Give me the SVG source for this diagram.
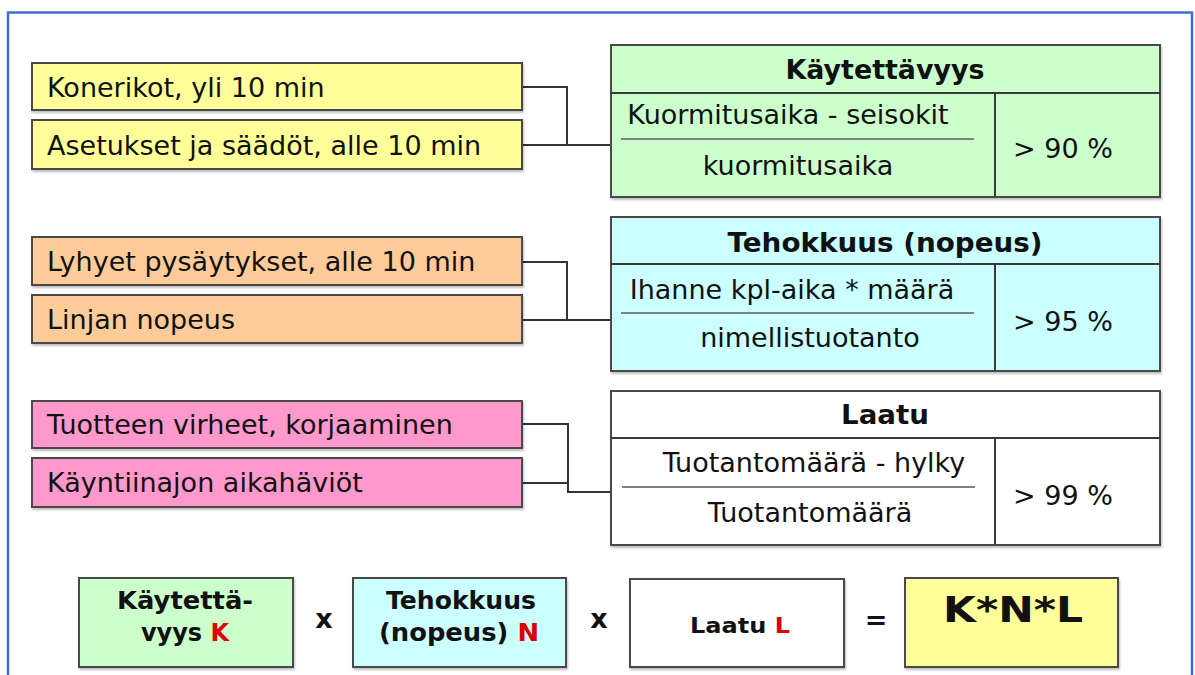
<svg xmlns="http://www.w3.org/2000/svg" width="1195" height="675" viewBox="0 0 1195 675">
  <defs>
    <filter id="shadow" x="-5%" y="-10%" width="110%" height="130%">
      <feDropShadow dx="1" dy="2" stdDeviation="1.2" flood-color="#000" flood-opacity="0.25"/>
    </filter>
    <style>
      .box { stroke: #4a4a4a; stroke-width: 2; filter: url(#shadow); }
      .yellow { fill: #ffff99; }
      .green { fill: #ccffcc; }
      .orange { fill: #ffcc99; }
      .cyan { fill: #ccffff; }
      .pink { fill: #ff99cc; }
      .white { fill: #ffffff; }
      .rule { stroke: #3a3a3a; stroke-width: 2; fill: none; }
      .frac { stroke: #808080; stroke-width: 2; }
      .t { font-family: "DejaVu Sans", Verdana, sans-serif; font-size: 27px; fill: #111; }
      .h { font-family: "DejaVu Sans", Verdana, sans-serif; font-size: 26px; font-weight: bold; fill: #111; text-anchor: middle; }
      .b { font-family: "DejaVu Sans", Verdana, sans-serif; font-size: 24px; font-weight: bold; fill: #111; text-anchor: middle; }
      .mid { text-anchor: middle; }
      .red { fill: #dd0000; }
      .conn { stroke: #333; stroke-width: 2; fill: none; }
    </style>
  </defs>

  <rect x="0" y="0" width="1195" height="675" fill="#ffffff"/>
  <!-- outer frame -->
  <rect x="8" y="12.5" width="1184" height="700" fill="none" stroke="#3e6fd0" stroke-width="2.5"/>

  <!-- connectors -->
  <g id="connectors">
    <path class="conn" d="M522,87 H567 V145"/>
    <path class="conn" d="M522,145 H611"/>
    <path class="conn" d="M522,262 H567 V320"/>
    <path class="conn" d="M522,320 H611"/>
    <path class="conn" d="M522,424 H568 V492 H611"/>
    <path class="conn" d="M522,483 H568"/>
  </g>

  <!-- availability losses -->
  <g id="konerikot">
    <rect class="box yellow" x="32" y="63" width="490" height="47"/>
    <text class="t" x="47" y="97">Konerikot, yli 10 min</text>
  </g>
  <g id="asetukset">
    <rect class="box yellow" x="32" y="120" width="490" height="49"/>
    <text class="t" x="47" y="155">Asetukset ja säädöt, alle 10 min</text>
  </g>

  <!-- speed losses -->
  <g id="lyhyet">
    <rect class="box orange" x="32" y="237" width="490" height="48"/>
    <text class="t" x="47" y="271">Lyhyet pysäytykset, alle 10 min</text>
  </g>
  <g id="linjan">
    <rect class="box orange" x="32" y="295" width="490" height="48"/>
    <text class="t" x="47" y="329">Linjan nopeus</text>
  </g>

  <!-- quality losses -->
  <g id="virheet">
    <rect class="box pink" x="32" y="401" width="490" height="47"/>
    <text class="t" x="47" y="434">Tuotteen virheet, korjaaminen</text>
  </g>
  <g id="kayntiinajo">
    <rect class="box pink" x="32" y="458" width="490" height="49"/>
    <text class="t" x="47" y="492">Käyntiinajon aikahäviöt</text>
  </g>

  <!-- availability table -->
  <g id="kaytettavyys">
    <rect class="box green" x="611" y="45" width="549" height="152"/>
    <line class="rule" x1="611" y1="93" x2="1160" y2="93"/>
    <line class="rule" x1="995" y1="93" x2="995" y2="197"/>
    <text class="h" x="885" y="79" textLength="199" lengthAdjust="spacingAndGlyphs">Käytettävyys</text>
    <text class="t mid" x="788" y="124">Kuormitusaika - seisokit</text>
    <line class="frac" x1="621" y1="139" x2="974" y2="139"/>
    <text class="t mid" x="798" y="175">kuormitusaika</text>
    <text class="t mid" x="1063" y="158">&gt; 90 %</text>
  </g>

  <!-- performance table -->
  <g id="tehokkuus">
    <rect class="box cyan" x="611" y="217" width="549" height="154"/>
    <line class="rule" x1="611" y1="264" x2="1160" y2="264"/>
    <line class="rule" x1="995" y1="264" x2="995" y2="371"/>
    <text class="h" x="885" y="252" textLength="315" lengthAdjust="spacingAndGlyphs">Tehokkuus (nopeus)</text>
    <text class="t mid" x="792" y="299">Ihanne kpl-aika * määrä</text>
    <line class="frac" x1="621" y1="313" x2="974" y2="313"/>
    <text class="t mid" x="810" y="347">nimellistuotanto</text>
    <text class="t mid" x="1063" y="331">&gt; 95 %</text>
  </g>

  <!-- quality table -->
  <g id="laatu">
    <rect class="box white" x="611" y="391" width="549" height="154"/>
    <line class="rule" x1="611" y1="438" x2="1160" y2="438"/>
    <line class="rule" x1="995" y1="438" x2="995" y2="545"/>
    <text class="h" x="885" y="424" textLength="88" lengthAdjust="spacingAndGlyphs">Laatu</text>
    <text class="t mid" x="814" y="472">Tuotantomäärä - hylky</text>
    <line class="frac" x1="622" y1="487" x2="975" y2="487"/>
    <text class="t mid" x="810" y="522">Tuotantomäärä</text>
    <text class="t mid" x="1063" y="505">&gt; 99 %</text>
  </g>

  <!-- formula row -->
  <g id="k-box">
    <rect class="box green" x="79" y="578" width="214" height="89"/>
    <text class="b" x="185" y="609" textLength="136" lengthAdjust="spacingAndGlyphs">Käytettä-</text>
    <text class="b" x="185" y="641">vyys <tspan class="red">K</tspan></text>
  </g>
  <g id="op-x1">
    <text class="b" x="324" y="628" style="font-size:27px">x</text>
  </g>
  <g id="n-box">
    <rect class="box cyan" x="353" y="578" width="213" height="89"/>
    <text class="b" x="461" y="609" textLength="150" lengthAdjust="spacingAndGlyphs">Tehokkuus</text>
    <text class="b" x="459" y="641" textLength="160" lengthAdjust="spacingAndGlyphs">(nopeus) <tspan class="red">N</tspan></text>
  </g>
  <g id="op-x2">
    <text class="b" x="599" y="628" style="font-size:27px">x</text>
  </g>
  <g id="l-box">
    <rect class="box white" x="630" y="579" width="214" height="88"/>
    <text class="b" x="740" y="633" style="font-size:22px" textLength="100" lengthAdjust="spacingAndGlyphs">Laatu <tspan class="red">L</tspan></text>
  </g>
  <g id="op-eq">
    <text class="b" x="876" y="629" style="font-size:27px">=</text>
  </g>
  <g id="result">
    <rect class="box yellow" x="905" y="578" width="213" height="89"/>
    <text class="b" x="1013" y="622" style="font-size:35px" textLength="140" lengthAdjust="spacingAndGlyphs">K*N*L</text>
  </g>
</svg>
